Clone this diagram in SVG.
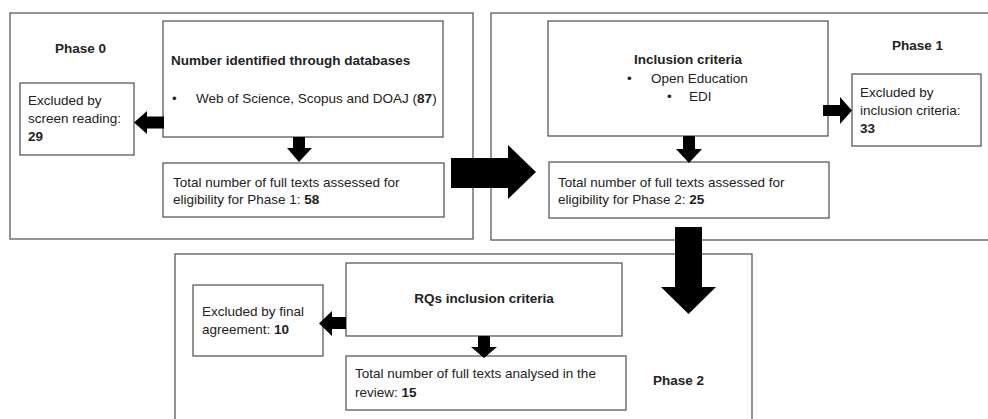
<svg xmlns="http://www.w3.org/2000/svg" width="988" height="419" viewBox="0 0 988 419">
<style>
.phase{fill:none;stroke:#5a5a5a;stroke-width:1.3}
.box{fill:#fff;stroke:#5a5a5a;stroke-width:1.3}
text{font-family:"Liberation Sans",Arial,sans-serif;font-size:13.5px;fill:#222}
.b{font-weight:bold}
.t{fill:#1a1a1a}
.arrow{fill:#000}
</style>
<rect width="988" height="419" fill="#fff"/>
<g id="phase0">
<rect class="phase" x="10" y="13" width="463" height="226"/>
<text class="b" x="55" y="53">Phase 0</text>
</g>
<g id="phase1">
<rect class="phase" x="491" y="13" width="510" height="227"/>
<text class="b" x="892" y="50">Phase 1</text>
</g>
<g id="phase2">
<rect class="phase" x="175" y="254" width="577" height="180"/>
<text class="b" x="653" y="385">Phase 2</text>
</g>
<g id="identified">
<rect class="box" x="163" y="21" width="280" height="116"/>
<text class="b" x="171" y="65">Number identified through databases</text>
<text x="172" y="103">•</text>
<text x="196" y="103">Web of Science, Scopus and DOAJ (<tspan class="b">87</tspan>)</text>
</g>
<g id="excluded-screen">
<rect class="box" x="20" y="83" width="114" height="72"/>
<text x="28" y="105">Excluded by</text>
<text x="28" y="123">screen reading:</text>
<text class="b" x="28" y="141">29</text>
</g>
<g id="total-phase1">
<rect class="box" x="163" y="163" width="281" height="54"/>
<text x="173" y="187">Total number of full texts assessed for</text>
<text x="173" y="204">eligibility for Phase 1: <tspan class="b">58</tspan></text>
</g>
<g id="inclusion">
<rect class="box" x="548" y="21" width="280" height="115"/>
<text class="b" x="688" y="64" text-anchor="middle">Inclusion criteria</text>
<text x="627" y="83">•</text>
<text x="651" y="83">Open Education</text>
<text x="667" y="101">•</text>
<text x="689" y="101">EDI</text>
</g>
<g id="excluded-inclusion">
<rect class="box" x="852" y="74" width="129" height="72"/>
<text x="860" y="97">Excluded by</text>
<text x="860" y="115">inclusion criteria:</text>
<text class="b" x="860" y="133">33</text>
</g>
<g id="total-phase2">
<rect class="box" x="549" y="162" width="280" height="56"/>
<text x="558" y="187">Total number of full texts assessed for</text>
<text x="558" y="204">eligibility for Phase 2: <tspan class="b">25</tspan></text>
</g>
<g id="rqs">
<rect class="box" x="346" y="263" width="276" height="73"/>
<text class="b" x="484" y="303" text-anchor="middle">RQs inclusion criteria</text>
</g>
<g id="excluded-final">
<rect class="box" x="193" y="285" width="130" height="71"/>
<text x="202" y="316">Excluded by final</text>
<text x="202" y="334">agreement: <tspan class="b">10</tspan></text>
</g>
<g id="total-review">
<rect class="box" x="346" y="356" width="280" height="54"/>
<text x="355" y="378">Total number of full texts analysed in the</text>
<text x="355" y="397">review: <tspan class="b">15</tspan></text>
</g>
<g id="connectors">
<polygon class="arrow" points="164,116.5 147,116.5 147,111 134,122.5 147,134 147,128.5 164,128.5"/>
<polygon class="arrow" points="293,137 305,137 305,148 312,148 299,162 287,148 293,148"/>
<polygon class="arrow" points="451,158 508,158 508,145 536,172 508,199 508,188 451,188"/>
<polygon class="arrow" points="823,105 840,105 840,97 852,110.5 840,124 840,116 823,116"/>
<polygon class="arrow" points="683,136 695,136 695,149 702,149 689,163 676,149 683,149"/>
<polygon class="arrow" points="675,227 702,227 702,287 716,287 688.5,314 661,287 675,287"/>
<polygon class="arrow" points="346,317 332,317 332,311 319,323.5 332,336 332,329 346,329"/>
<polygon class="arrow" points="478,336 490,336 490,347 497,347 484,358 471,347 478,347"/>
</g>
</svg>
